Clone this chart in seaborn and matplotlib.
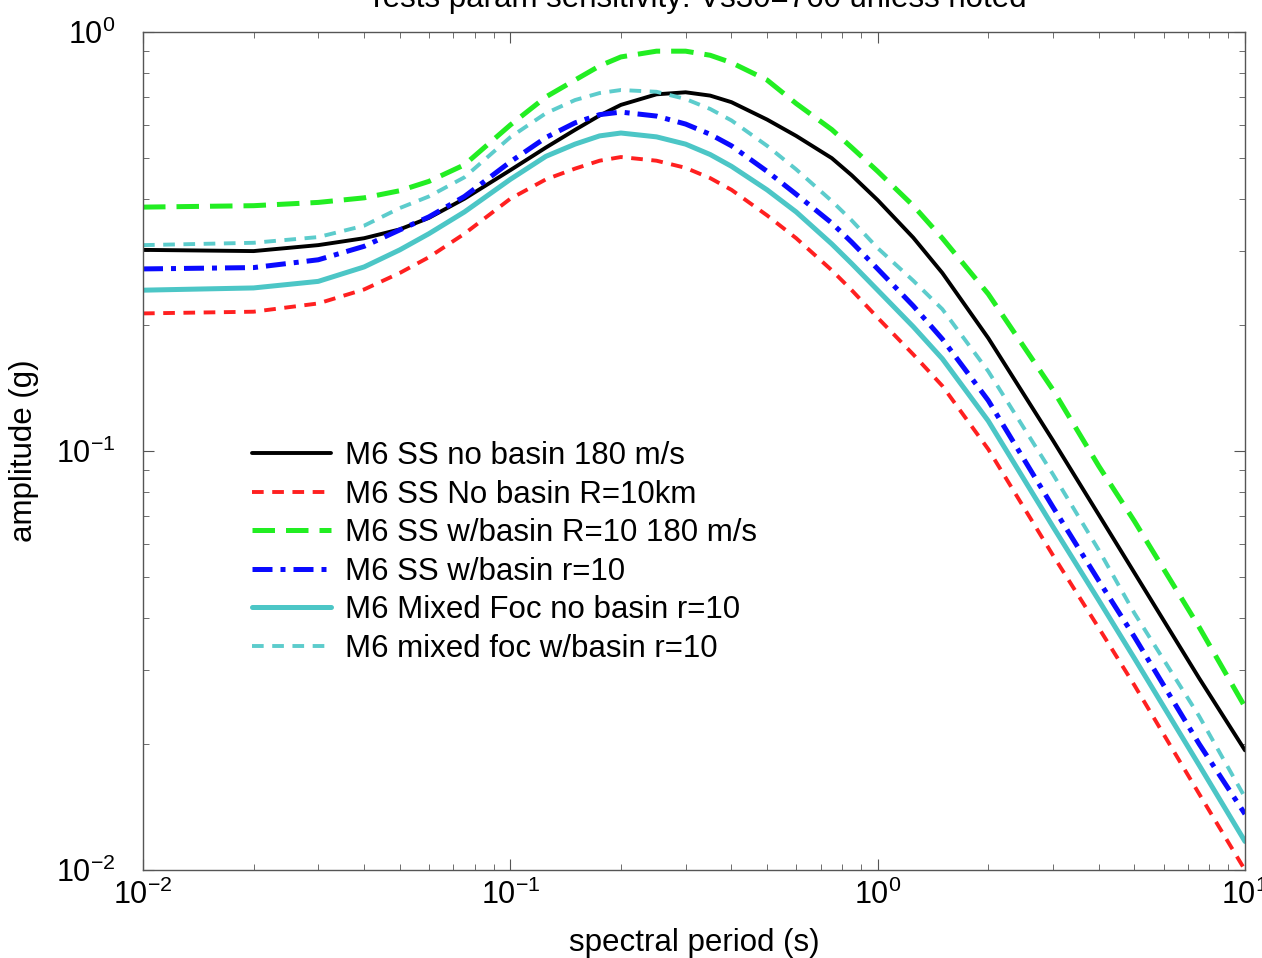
import matplotlib
matplotlib.use("Agg")
import matplotlib.pyplot as plt
import pandas as pd
import seaborn as sns
from matplotlib.ticker import LogLocator

# spectral periods (s)
periods = [0.01, 0.02, 0.03, 0.04, 0.05, 0.06, 0.075, 0.1, 0.125, 0.15, 0.175, 0.2, 0.25,
           0.3, 0.35, 0.4, 0.5, 0.6, 0.75, 0.85, 1.0, 1.25, 1.5, 2.0, 3.0, 4.0, 5.0, 7.5, 10.0]

# amplitudes (g)
ss_nobasin_180 = [0.302, 0.300, 0.310, 0.322, 0.338, 0.360, 0.400, 0.468, 0.530, 0.584, 0.632,
                  0.670, 0.710, 0.718, 0.705, 0.680, 0.618, 0.565, 0.500, 0.455, 0.397, 0.323,
                  0.266, 0.186, 0.106, 0.0704, 0.0512, 0.0287, 0.0193]
ss_nobasin_r10 = [0.213, 0.215, 0.225, 0.243, 0.266, 0.290, 0.330, 0.400, 0.445, 0.472, 0.493,
                  0.503, 0.493, 0.474, 0.448, 0.420, 0.365, 0.322, 0.270, 0.242, 0.208, 0.170,
                  0.143, 0.101, 0.0564, 0.0378, 0.0276, 0.0152, 0.0100]
ss_basin_180 = [0.382, 0.385, 0.392, 0.402, 0.418, 0.440, 0.482, 0.600, 0.700, 0.768, 0.830,
                0.872, 0.900, 0.900, 0.880, 0.845, 0.768, 0.675, 0.585, 0.530, 0.465, 0.385,
                0.322, 0.237, 0.140, 0.092, 0.068, 0.038, 0.0245]
ss_basin_r10 = [0.272, 0.274, 0.286, 0.308, 0.337, 0.362, 0.405, 0.490, 0.560, 0.607, 0.635,
                0.644, 0.630, 0.603, 0.570, 0.535, 0.465, 0.410, 0.350, 0.315, 0.272, 0.222,
                0.185, 0.132, 0.0735, 0.049, 0.036, 0.020, 0.0136]
mixed_nobasin_r10 = [0.242, 0.245, 0.254, 0.275, 0.302, 0.330, 0.372, 0.445, 0.505, 0.540, 0.565,
                     0.574, 0.562, 0.540, 0.510, 0.478, 0.420, 0.372, 0.312, 0.280, 0.242, 0.198,
                     0.166, 0.118, 0.066, 0.044, 0.032, 0.0178, 0.0117]
mixed_basin_r10 = [0.310, 0.314, 0.324, 0.345, 0.380, 0.405, 0.450, 0.561, 0.640, 0.688, 0.715,
                   0.727, 0.720, 0.692, 0.655, 0.615, 0.535, 0.470, 0.395, 0.355, 0.305, 0.255,
                   0.218, 0.155, 0.088, 0.058, 0.041, 0.0233, 0.0149]

labels = ["M6 SS no basin 180 m/s", "M6 SS No basin R=10km", "M6 SS w/basin R=10 180 m/s",
          "M6 SS w/basin r=10", "M6 Mixed Foc no basin r=10", "M6 mixed foc w/basin r=10"]
series = [ss_nobasin_180, ss_nobasin_r10, ss_basin_180, ss_basin_r10,
          mixed_nobasin_r10, mixed_basin_r10]

styles = [
    dict(color="black", linewidth=2.8, linestyle="-"),
    dict(color="#ff2020", linewidth=2.8, linestyle=(0, (3.0, 2.2))),
    dict(color="#22ee22", linewidth=3.6, linestyle=(0, (4.5, 2.2))),
    dict(color="#0a0aff", linewidth=3.6, linestyle=(0, (4.0, 1.6, 1.0, 1.6))),
    dict(color="#4cc6c6", linewidth=3.6, linestyle="-"),
    dict(color="#5ccccc", linewidth=2.8, linestyle=(0, (3.0, 2.2))),
]

sns.set_style("ticks")
plt.rcParams["font.family"] = ["Liberation Sans", "DejaVu Sans"]
plt.rcParams["mathtext.fontset"] = "custom"
plt.rcParams["mathtext.rm"] = "Liberation Sans"
for key in ["text.color", "axes.labelcolor", "xtick.labelcolor", "ytick.labelcolor"]:
    plt.rcParams[key] = "black"

fig = plt.figure(figsize=(12.62, 9.58), dpi=100)
ax = fig.add_axes([143 / 1262, 1 - 870 / 958, 1102 / 1262, 838 / 958])

for lab, vals, st in zip(labels, series, styles):
    df = pd.DataFrame({"period": periods, "amp": vals})
    sns.lineplot(data=df, x="period", y="amp", ax=ax, label=lab, **st)

ax.set_xscale("log")
ax.set_yscale("log")
ax.set_xlim(0.01, 10)
ax.set_ylim(0.01, 1)
ax.xaxis.set_minor_locator(LogLocator(base=10, subs=range(2, 10)))
ax.yaxis.set_minor_locator(LogLocator(base=10, subs=range(2, 10)))
ax.tick_params(which="both", direction="in", top=True, right=True, color="#555555")
ax.tick_params(which="major", length=8, width=0.8, labelsize=22)
ax.tick_params(axis="x", which="major", pad=7)
ax.tick_params(axis="y", which="major", pad=20)
ax.tick_params(which="minor", length=4, width=0.6)
for sp in ax.spines.values():
    sp.set_color("#555555")
    sp.set_linewidth(1.0)

ax.set_xlabel("spectral period (s)", fontsize=22.5, labelpad=12)
ax.set_ylabel("amplitude (g)", fontsize=22.5, labelpad=12)

fig.text(0.552, 1 - 7 / 958, "Tests param sensitivity: Vs30=760 unless noted",
         ha="center", va="baseline", fontsize=22.5)

ax.legend(loc="upper left", bbox_to_anchor=(0.073, 0.545), frameon=False, fontsize=22.5,
          handlelength=2.55, handletextpad=0.45, labelspacing=0.27)

fig.savefig("out.png", dpi=100)
